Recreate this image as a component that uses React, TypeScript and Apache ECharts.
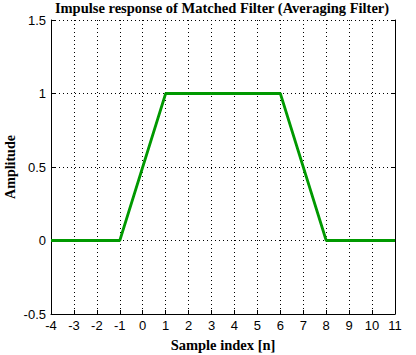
import React, { useEffect, useRef } from "react";
import * as echarts from "echarts";

const sampleIndex = [-4, -1, 1, 6, 8, 11];
const amplitude = [0, 0, 1, 1, 0, 0];
const titleText = "Impulse response of Matched Filter (Averaging Filter)";
const xName = "Sample index [n]";
const yName = "Amplitude";

export default function App() {
  const ref = useRef<HTMLDivElement>(null);
  useEffect(() => {
    const chart = echarts.init(ref.current!, null, { renderer: "svg" });
    const tickFont = { color: "#000", fontFamily: "Liberation Sans, Arial, sans-serif", fontSize: 13 };
    const nameFont = { color: "#000", fontFamily: "Liberation Serif, Times New Roman, serif", fontSize: 14.5, fontWeight: "bold" as const };
    chart.setOption({
      animation: false,
      backgroundColor: "#fff",
      title: {
        text: titleText,
        left: 222,
        top: 0,
        padding: 0,
        textAlign: "center",
        textStyle: { ...nameFont, fontSize: 14.5 },
      },
      grid: { left: 51, right: 21, top: 20, bottom: 41, containLabel: false, outerBoundsMode: "none" },
      xAxis: {
        type: "value",
        min: -4,
        max: 11,
        interval: 1,
        name: xName,
        nameLocation: "middle",
        nameGap: 23,
        nameMoveOverlap: false,
        nameTextStyle: { ...nameFont },
        axisLine: { show: true, onZero: false, lineStyle: { color: "#000", width: 1 } },
        axisTick: { show: true, inside: true, length: 4, lineStyle: { color: "#000" } },
        axisLabel: { ...tickFont, margin: 5 },
        splitLine: { show: true, lineStyle: { color: "#000", type: [1, 3], width: 1 } },
      },
      yAxis: [
        {
          type: "value",
          min: -0.5,
          max: 1.5,
          interval: 0.5,
          name: yName,
          nameLocation: "middle",
          nameGap: 34,
          nameMoveOverlap: false,
          nameTextStyle: { ...nameFont, fontSize: 14 },
          axisLine: { show: true, onZero: false, lineStyle: { color: "#000", width: 1 } },
          axisTick: { show: true, inside: true, length: 4, lineStyle: { color: "#000" } },
          axisLabel: { ...tickFont, margin: 5 },
          splitLine: { show: true, lineStyle: { color: "#000", type: [1, 3], width: 1 } },
        },
        {
          type: "value",
          position: "right",
          min: -0.5,
          max: 1.5,
          interval: 0.5,
          axisLine: { show: true, onZero: false, lineStyle: { color: "#000", width: 1 } },
          axisTick: { show: true, inside: true, length: 4, lineStyle: { color: "#000" } },
          axisLabel: { show: false },
          splitLine: { show: false },
        },
      ],
      series: [
        {
          type: "line",
          data: sampleIndex.map((x, i) => [x, amplitude[i]]),
          showSymbol: false,
          lineStyle: { color: "#009900", width: 2.8 },
          itemStyle: { color: "#009900" },
        },
      ],
    });
    return () => chart.dispose();
  }, []);
  return (
    <div
      ref={ref}
      style={{ position: "absolute", left: 0, top: 0, width: 416, height: 355 }}
    />
  );
}
